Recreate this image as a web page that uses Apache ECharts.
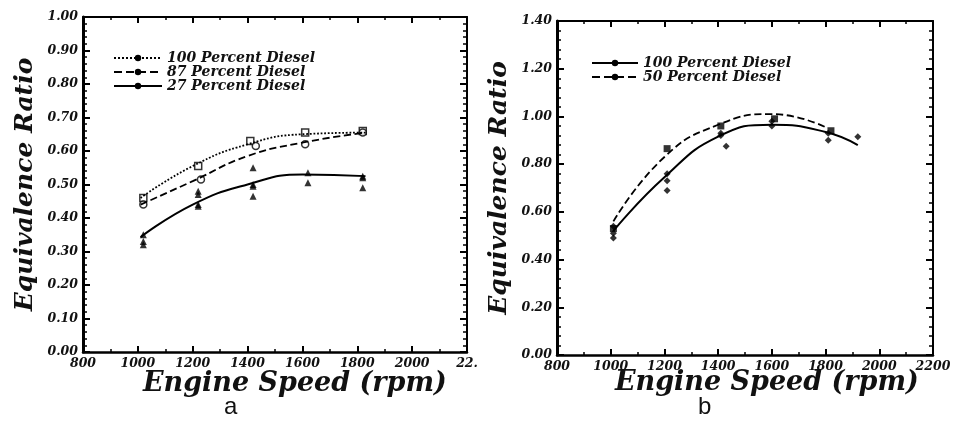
<!DOCTYPE html>
<html>
<head>
<meta charset="utf-8">
<script src="https://cdn.jsdelivr.net/npm/echarts@6/dist/echarts.min.js"></script>
<style>
html, body { margin: 0; padding: 0; background: #fff; }
#main { width: 961px; height: 433px; }
</style>
</head>
<body>
<div id="main"></div>
<script>
// panel a : fitted curves
const curveSpeedA = [1010, 1200, 1400, 1600, 1830];
const curve100A = [0.46, 0.555, 0.62, 0.65, 0.655];
const curve87A = [0.44, 0.51, 0.585, 0.625, 0.655];
const curve27A = [0.343, 0.44, 0.50, 0.53, 0.525];
// panel a : measured points
const pts100A = [[1020, 0.46], [1220, 0.555], [1410, 0.63], [1610, 0.655], [1820, 0.66]];
const pts87A = [[1020, 0.44], [1230, 0.515], [1430, 0.615], [1610, 0.62], [1820, 0.655]];
const pts27A = [[1020, 0.35], [1020, 0.33], [1020, 0.32], [1220, 0.48], [1220, 0.47], [1220, 0.44],
  [1220, 0.435], [1420, 0.55], [1420, 0.50], [1420, 0.495], [1420, 0.465], [1620, 0.535], [1620, 0.505],
  [1820, 0.525], [1820, 0.52], [1820, 0.49]];

// panel b : fitted curves
const curveSpeed100B = [1010, 1200, 1400, 1600, 1800, 1920];
const curve100B = [0.52, 0.745, 0.915, 0.965, 0.935, 0.88];
const curveSpeed50B = [1010, 1200, 1400, 1600, 1800];
const curve50B = [0.56, 0.83, 0.965, 1.01, 0.955];
// panel b : measured points
const pts100B = [[1010, 0.54], [1010, 0.51], [1010, 0.49], [1210, 0.76], [1210, 0.73], [1210, 0.69],
  [1410, 0.93], [1410, 0.92], [1430, 0.875], [1600, 0.98], [1600, 0.96], [1810, 0.93], [1810, 0.90],
  [1920, 0.915]];
const pts50B = [[1010, 0.53], [1210, 0.865], [1410, 0.96], [1610, 0.99], [1820, 0.94]];

// tick labels
const xLabelsA = ['800', '1000', '1200', '1400', '1600', '1800', '2000', '22.'];
const xLabelsB = ['800', '1000', '1200', '1400', '1600', '1800', '2000', '2200'];
const yLabelsA = ['0.00', '0.10', '0.20', '0.30', '0.40', '0.50', '0.60', '0.70', '0.80', '0.90', '1.00'];
const yLabelsB = ['0.00', '0.20', '0.40', '0.60', '0.80', '1.00', '1.20', '1.40'];

const zip = (xs, ys) => xs.map((x, i) => [x, ys[i]]);
const serif = 'DejaVu Serif';
const tickFont = { color: '#111', fontFamily: serif, fontStyle: 'italic', fontWeight: 'bold', fontSize: 12.5 };

const chartDom = document.getElementById('main');
const myChart = echarts.init(chartDom);

const baseX = (grid, labels, pos) => ({
  type: 'value', gridIndex: grid, position: pos, min: 800, max: 2200, interval: 200,
  axisLine: { show: true, onZero: false, lineStyle: { color: '#000', width: pos === 'bottom' ? 2.5 : 2 } },
  axisTick: { show: true, inside: true, length: 6, lineStyle: { color: '#000', width: 2 } },
  minorTick: { show: true, splitNumber: 2, length: 3, lineStyle: { color: '#000', width: 1.5 } },
  splitLine: { show: false },
  axisLabel: pos === 'bottom'
    ? Object.assign({ margin: 5, formatter: v => labels[Math.round((v - 800) / 200)] }, tickFont)
    : { show: false }
});

const baseY = (grid, max, step, labels, pos) => ({
  type: 'value', gridIndex: grid, position: pos, min: 0, max: max, interval: step,
  axisLine: { show: true, onZero: false, lineStyle: { color: '#000', width: pos === 'left' ? 3 : 2 } },
  axisTick: { show: true, inside: true, length: 7, lineStyle: { color: '#000', width: 2 } },
  minorTick: { show: true, splitNumber: 5, length: 4, lineStyle: { color: '#000', width: 1.5 } },
  splitLine: { show: false },
  name: pos === 'left' ? 'Equivalence Ratio' : '',
  nameLocation: 'middle',
  nameGap: 45,
  nameTextStyle: { color: '#111', fontFamily: serif, fontStyle: 'italic', fontWeight: 'bold', fontSize: 25 },
  axisLabel: pos === 'left'
    ? Object.assign({ margin: 5, formatter: v => labels[Math.round(v / step)] }, tickFont)
    : { show: false }
});

const curve = (name, x, y, data, type) => ({
  name: name, type: 'line', xAxisIndex: x, yAxisIndex: y, data: data, smooth: true,
  showSymbol: false, symbol: 'none',
  itemStyle: { color: '#000' },
  lineStyle: { color: '#000', width: type === 'solid' ? 2 : 1.8, type: type }
});

const points = (name, x, y, data, symbol, hollow) => ({
  name: name, type: 'scatter', xAxisIndex: x, yAxisIndex: y, data: data,
  symbol: symbol, symbolSize: 7,
  itemStyle: hollow ? { color: '#fff', borderColor: '#000', borderWidth: 1.5 } : { color: '#000' }
});

const legendText = { color: '#111', fontFamily: serif, fontStyle: 'italic', fontWeight: 'bold', fontSize: 14, lineHeight: 13 };

let option = {
  animation: false,
  color: ['#000'],
  grid: [
    { left: 83, top: 17, width: 384, height: 335 },
    { left: 557, top: 21, width: 376, height: 334 }
  ],
  xAxis: [
    baseX(0, xLabelsA, 'bottom'), baseX(0, xLabelsA, 'top'),
    baseX(1, xLabelsB, 'bottom'), baseX(1, xLabelsB, 'top')
  ],
  yAxis: [
    baseY(0, 1.0, 0.1, yLabelsA, 'left'), baseY(0, 1.0, 0.1, yLabelsA, 'right'),
    baseY(1, 1.4, 0.2, yLabelsB, 'left'), baseY(1, 1.4, 0.2, yLabelsB, 'right')
  ],
  legend: [
    {
      data: ['100 Percent Diesel', '87 Percent Diesel', '27 Percent Diesel'],
      orient: 'vertical', left: 108, top: 46, itemWidth: 48, itemHeight: 8, itemGap: 0,
      textStyle: legendText, selectedMode: false, itemStyle: { color: '#000' }
    },
    {
      data: ['100 Percent Diesel ', '50 Percent Diesel'],
      orient: 'vertical', left: 586, top: 51, itemWidth: 46, itemHeight: 8, itemGap: 0,
      textStyle: legendText, selectedMode: false, itemStyle: { color: '#000' }
    }
  ],
  series: [
    curve('100 Percent Diesel', 0, 0, zip(curveSpeedA, curve100A), 'dotted'),
    curve('87 Percent Diesel', 0, 0, zip(curveSpeedA, curve87A), 'dashed'),
    curve('27 Percent Diesel', 0, 0, zip(curveSpeedA, curve27A), 'solid'),
    points('100 Percent Diesel', 0, 0, pts100A, 'rect', true),
    points('87 Percent Diesel', 0, 0, pts87A, 'circle', true),
    points('27 Percent Diesel', 0, 0, pts27A, 'triangle', false),
    curve('100 Percent Diesel ', 2, 2, zip(curveSpeed100B, curve100B), 'solid'),
    curve('50 Percent Diesel', 2, 2, zip(curveSpeed50B, curve50B), 'dashed'),
    points('100 Percent Diesel ', 2, 2, pts100B, 'diamond', false),
    points('50 Percent Diesel', 2, 2, pts50B, 'rect', false)
  ],
  graphic: [
    { type: 'text', left: 143, top: 370, style: { text: 'Engine Speed (rpm)', fill: '#111',
      font: 'italic bold 27px "DejaVu Serif"' } },
    { type: 'text', left: 615, top: 369, style: { text: 'Engine Speed (rpm)', fill: '#111',
      font: 'italic bold 27px "DejaVu Serif"' } },
    { type: 'text', left: 224, top: 395, style: { text: 'a', fill: '#111',
      font: '24px "Liberation Sans"' } },
    { type: 'text', left: 698, top: 395, style: { text: 'b', fill: '#111',
      font: '24px "Liberation Sans"' } }
  ]
};

option && myChart.setOption(option);
</script>
</body>
</html>
